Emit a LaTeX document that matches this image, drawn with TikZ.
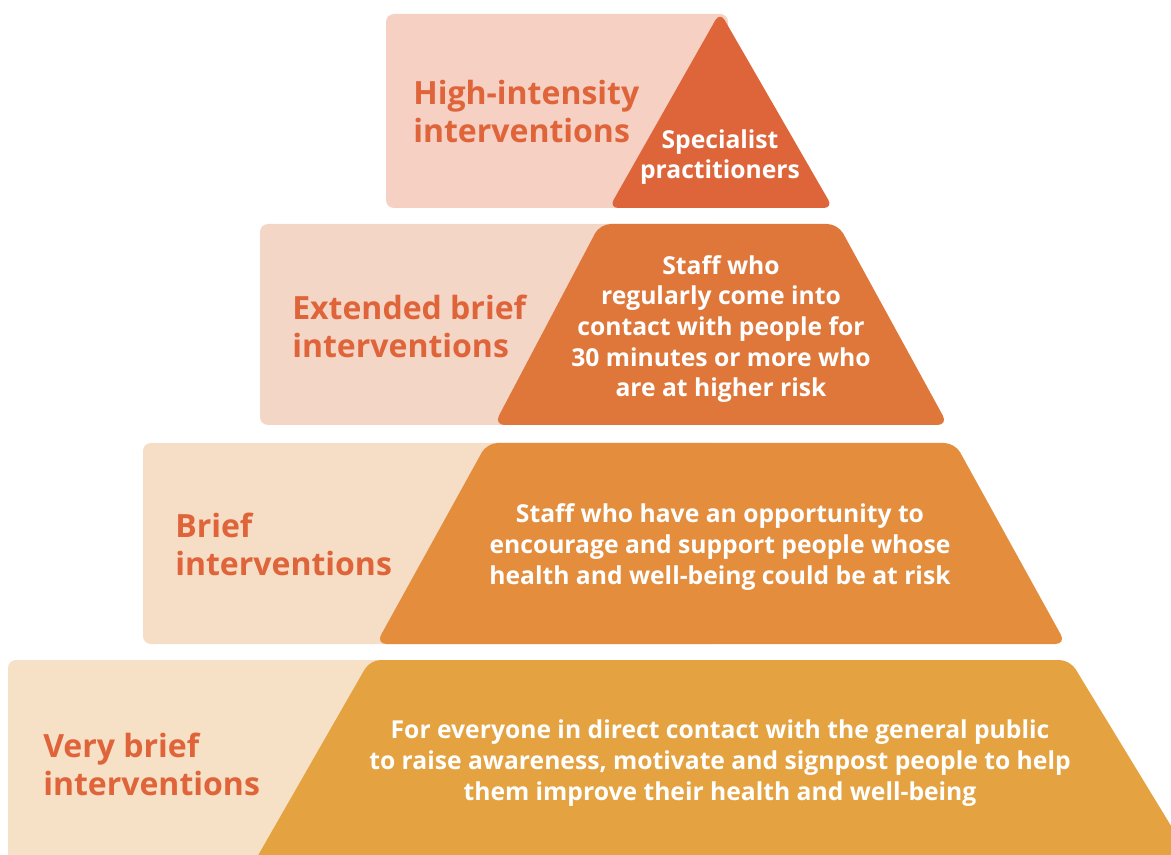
\documentclass[tikz,border=0pt]{standalone}
\usepackage{fontspec}
\setmainfont{Open Sans}
\definecolor{headc}{HTML}{E0643A}
\definecolor{lA}{HTML}{F5D0C3}
\definecolor{dA}{HTML}{DE653A}
\definecolor{lB}{HTML}{F4D6C6}
\definecolor{dB}{HTML}{DF773B}
\definecolor{lC}{HTML}{F5DDC6}
\definecolor{dC}{HTML}{E38D3D}
\definecolor{lD}{HTML}{F6E0C6}
\definecolor{dD}{HTML}{E4A241}
\begin{document}
\begin{tikzpicture}[x=0.75pt,y=-0.75pt,
  head/.style={text=headc, font=\fontsize{24}{28.5}\selectfont\bfseries, align=left, anchor=west, inner sep=0pt},
  body/.style={text=white, font=\fontsize{18.5}{23}\selectfont\bfseries, align=center, inner sep=0pt}]
\useasboundingbox (0,0) rectangle (1171,855);
\clip (0,0) rectangle (1171,855);
% tier 1
\fill[lA, rounded corners=6] (386,14) rectangle (728,208);
\fill[dA, rounded corners=7] (720,12) -- (833,208) -- (609,208) -- cycle;
\node[head] (h1) at (413,112) {High-intensity\\interventions};
\node[body] (b1) at (720,157) {Specialist\\practitioners};
% tier 2
\fill[lB, rounded corners=6] (260,224) rectangle (720,425);
\fill[dB, rounded corners=8] (600,224) -- (838,224) -- (948,425) -- (494,425) -- cycle;
\node[head] (h2) at (292,326) {Extended brief\\interventions};
\node[body] (b2) at (721,329) {Staff who\\regularly come into\\contact with people for\\30 minutes or more who\\are at higher risk};
% tier 3
\fill[lC, rounded corners=6] (143,443) rectangle (720,644);
\fill[dC, rounded corners=8] (487,443) -- (955,443) -- (1066,644) -- (376,644) -- cycle;
\node[head] (h3) at (175,544) {Brief\\interventions};
\node[body] (b3) at (720,547) {Staff who have an opportunity to\\encourage and support people whose\\health and well-being could be at risk};
% tier 4
\fill[lD, rounded corners=6] (8,660) rectangle (720,900);
\fill[dD, rounded corners=8] (370,660) -- (1070,660) -- (1204,880) -- (244,880) -- cycle;
\node[head] (h4) at (43,764) {Very brief\\interventions};
\node[body] (b4) at (720,763) {For everyone in direct contact with the general public\\to raise awareness, motivate and signpost people to help\\them improve their health and well-being};
\end{tikzpicture}
\end{document}
